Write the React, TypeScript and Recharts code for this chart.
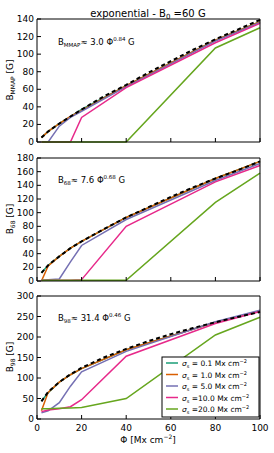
import { LineChart, Line, XAxis, YAxis } from 'recharts';

// sample points of the runs
const phi = [2, 5, 10, 15, 20, 40, 80, 100];
const fitPhi = [2, 5, 10, 15, 20, 30, 40, 50, 60, 70, 80, 90, 100];
const phiTicks = [0, 20, 40, 60, 80, 100];

const sigmaLabels = ['0.1', '1.0', '5.0', '10.0', '20.0'];
const sigmaColors = ['#1b9e77', '#d95f02', '#7570b3', '#e7298a', '#66a61e'];

// panel 1: B_MMAP
const mmap01 = [5, 12, 21, 29, 37, 64, 116, 137];
const mmap1 = [5, 12, 21, 29, 36, 64, 116, 137];
const mmap5 = [0, 0, 18, 28, 35, 63, 115, 136];
const mmap10 = [0, 0, 0, 0, 28, 62, 113, 135];
const mmap20 = [0, 0, 0, 0, 0, 0, 107, 130];
const mmapFit = [5, 12, 21, 29, 37, 52, 65, 79, 92, 105, 117, 128, 139];
const mmapTicks = [0, 20, 40, 60, 80, 100, 120, 140];

// panel 2: B_68
const b68_01 = [12, 23, 36, 48, 58, 93, 150, 175];
const b68_1 = [0, 22, 36, 48, 58, 93, 150, 175];
const b68_5 = [1, 2, 3, 28, 52, 90, 147, 172];
const b68_10 = [1, 1, 1, 1, 2, 80, 145, 169];
const b68_20 = [1, 1, 1, 1, 1, 1, 115, 158];
const b68Fit = [12, 23, 36, 48, 58, 76, 93, 108, 123, 137, 150, 162, 175];
const b68Ticks = [0, 20, 40, 60, 80, 100, 120, 140, 160, 180];

// panel 3: B_98
const b98_01 = [44, 64, 90, 108, 123, 169, 236, 263];
const b98_1 = [20, 65, 90, 108, 123, 169, 236, 263];
const b98_5 = [15, 20, 40, 80, 115, 165, 237, 265];
const b98_10 = [18, 22, 25, 30, 47, 153, 233, 262];
const b98_20 = [25, 25, 26, 27, 28, 50, 205, 248];
const b98Fit = [43, 66, 90, 109, 125, 150, 171, 190, 207, 222, 236, 249, 261];
const b98Ticks = [0, 50, 100, 150, 200, 250, 300];

const FONT = '"DejaVu Sans", sans-serif';

const toPts = (xs: number[], ys: number[]) => xs.map((x, i) => ({ x, y: ys[i] }));

const BottomTick = (props: any) => {
  const { x, y, payload, showLabel } = props;
  return (
    <g>
      <line x1={x} x2={x} y1={y} y2={y - 4} stroke="#000" strokeWidth={1} />
      {showLabel && (
        <text x={x} y={y + 12} textAnchor="middle" fontSize={9} fontFamily={FONT} fill="#000">
          {payload.value}
        </text>
      )}
    </g>
  );
};

const TopTick = ({ x, y }: any) => <line x1={x} x2={x} y1={y} y2={y + 4} stroke="#000" strokeWidth={1} />;

const LeftTick = ({ x, y, payload }: any) => (
  <g>
    <line x1={x} x2={x + 4} y1={y} y2={y} stroke="#000" strokeWidth={1} />
    <text x={x - 3} y={y + 3} textAnchor="end" fontSize={9} fontFamily={FONT} fill="#000">
      {payload.value}
    </text>
  </g>
);

const RightTick = ({ x, y }: any) => <line x1={x} x2={x - 4} y1={y} y2={y} stroke="#000" strokeWidth={1} />;

interface PanelProps {
  top: number;
  height: number;
  margin: { top: number; right: number; bottom: number; left: number };
  series: number[][];
  fit: number[];
  yMax: number;
  yTicks: number[];
  labels: boolean;
}

const Panel = ({ top, height, margin, series, fit, yMax, yTicks, labels }: PanelProps) => (
  <div style={{ position: 'absolute', left: 0, top }}>
    <LineChart width={274} height={height} margin={margin}>
      <XAxis
        dataKey="x"
        type="number"
        domain={[0, 100]}
        ticks={phiTicks}
        interval={0}
        height={labels ? 30 : 1}
        tickSize={0}
        tickMargin={0}
        axisLine={{ stroke: '#000' }}
        tickLine={false}
        tick={<BottomTick showLabel={labels} />}
        allowDuplicatedCategory={false}
      />
      <XAxis
        xAxisId="t"
        orientation="top"
        type="number"
        domain={[0, 100]}
        ticks={phiTicks}
        interval={0}
        height={1}
        tickSize={0}
        tickMargin={0}
        axisLine={{ stroke: '#000' }}
        tickLine={false}
        tick={<TopTick />}
      />
      <YAxis
        type="number"
        domain={[0, yMax]}
        ticks={yTicks}
        interval={0}
        width={37}
        tickSize={0}
        tickMargin={0}
        axisLine={{ stroke: '#000' }}
        tickLine={false}
        tick={<LeftTick />}
      />
      <YAxis
        yAxisId="r"
        orientation="right"
        type="number"
        domain={[0, yMax]}
        ticks={yTicks}
        interval={0}
        width={1}
        tickSize={0}
        tickMargin={0}
        axisLine={{ stroke: '#000' }}
        tickLine={false}
        tick={<RightTick />}
      />
      {series.map((vals, i) => (
        <Line
          key={sigmaLabels[i]}
          data={toPts(phi, vals)}
          dataKey="y"
          type="linear"
          stroke={sigmaColors[i]}
          strokeWidth={1.5}
          dot={false}
          isAnimationActive={false}
        />
      ))}
      <Line
        data={toPts(fitPhi, fit)}
        dataKey="y"
        type="linear"
        stroke="#000"
        strokeWidth={2}
        strokeDasharray="4 3"
        dot={false}
        legendType="none"
        isAnimationActive={false}
      />
    </LineChart>
  </div>
);

const YLabel = ({ cy, sub }: { cy: number; sub: string }) => (
  <text transform={`translate(13 ${cy}) rotate(-90)`} textAnchor="middle" fontSize={9} fontFamily={FONT}>
    B<tspan fontSize={6} dy={2}>{sub}</tspan>
    <tspan dy={-2}> [G]</tspan>
  </text>
);

const Annot = ({ y, sub, coef, exp }: { y: number; sub: string; coef: string; exp: string }) => (
  <text x={58} y={y} fontSize={8.5} fontFamily={FONT}>
    B<tspan fontSize={5.5} dy={2}>{sub}</tspan>
    <tspan dy={-2}>{`\u2248  ${coef} \u03A6`}</tspan>
    <tspan fontSize={5.5} dy={-4}>{exp}</tspan>
    <tspan dy={4}> G</tspan>
  </text>
);

export default function App() {
  return (
    <div style={{ position: 'absolute', left: 0, top: 0, width: 274, height: 453, background: '#fff' }}>
      <Panel
        top={0}
        height={150}
        margin={{ top: 18, right: 13, bottom: 7, left: 0 }}
        series={[mmap01, mmap1, mmap5, mmap10, mmap20]}
        fit={mmapFit}
        yMax={140}
        yTicks={mmapTicks}
        labels={false}
      />
      <Panel
        top={150}
        height={137}
        margin={{ top: 7, right: 13, bottom: 5, left: 0 }}
        series={[b68_01, b68_1, b68_5, b68_10, b68_20]}
        fit={b68Fit}
        yMax={180}
        yTicks={b68Ticks}
        labels={false}
      />
      <Panel
        top={287}
        height={166}
        margin={{ top: 8, right: 13, bottom: 4, left: 0 }}
        series={[b98_01, b98_1, b98_5, b98_10, b98_20]}
        fit={b98Fit}
        yMax={300}
        yTicks={b98Ticks}
        labels={true}
      />
      <svg
        width={274}
        height={453}
        style={{ position: 'absolute', left: 0, top: 0, pointerEvents: 'none' }}
      >
        <text x={148} y={17} textAnchor="middle" fontSize={10} fontFamily={FONT}>
          exponential - B<tspan fontSize={7} dy={2}>0</tspan>
          <tspan dy={-2}> =60 G</tspan>
        </text>
        <YLabel cy={80} sub="MMAP" />
        <YLabel cy={219} sub="68" />
        <YLabel cy={357} sub="98" />
        <Annot y={45} sub="MMAP" coef="3.0" exp="0.84" />
        <Annot y={183} sub="68" coef="7.6" exp="0.68" />
        <Annot y={321} sub="98" coef="31.4" exp="0.46" />
        <text x={148} y={443} textAnchor="middle" fontSize={9} fontFamily={FONT}>
          {'\u03A6 [Mx cm'}
          <tspan fontSize={6} dy={-4}>{'\u22122'}</tspan>
          <tspan dy={4}>]</tspan>
        </text>
        <rect x={162} y={357} width={97} height={60} fill="#fff" stroke="#000" strokeWidth={1} />
        {sigmaLabels.map((s, i) => {
          const cy = 363 + i * 11.5;
          return (
            <g key={s}>
              <line x1={166} x2={178} y1={cy} y2={cy} stroke={sigmaColors[i]} strokeWidth={1.5} />
              <text x={182} y={cy + 3} fontSize={7.5} fontFamily={FONT}>
                <tspan fontStyle="italic">{'\u03C3'}</tspan>
                <tspan fontSize={5} dy={2}>s</tspan>
                <tspan dy={-2}>{s.length > 3 ? ` =${s} Mx cm` : ` = ${s} Mx cm`}</tspan>
                <tspan fontSize={5} dy={-3}>{'\u22122'}</tspan>
              </text>
            </g>
          );
        })}
      </svg>
    </div>
  );
}
